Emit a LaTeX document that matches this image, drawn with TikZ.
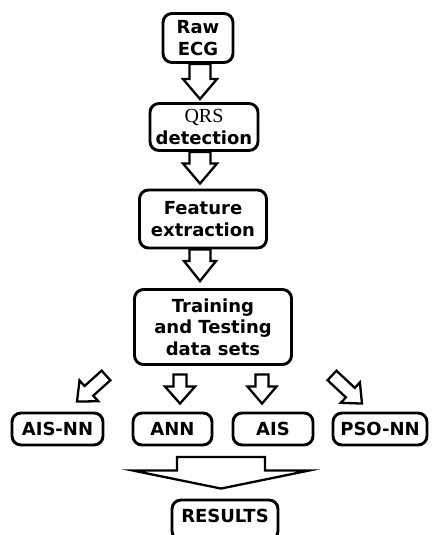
\documentclass[tikz,border=0pt]{standalone}
\usepackage{fontspec}
\setmainfont{DejaVu Sans}
\newfontfamily\qrsfont{Liberation Serif}
\usetikzlibrary{calc}

\tikzset{
  stage/.style={draw, line width=2.9pt, rounded corners=9pt, align=center,
    inner sep=0pt, font=\bfseries\fontsize{18}{21.5}\selectfont},
  flowarrow/.style={draw, line width=2.3pt, fill=white, line join=miter},
}

% block arrow: tail, tip, half shaft width, half head width, head length
\newcommand\blockarrow[5]{%
  \draw[flowarrow] let \p1=(#1), \p2=(#2),
    \n1={atan2(\y2-\y1,\x2-\x1)}, \n2={veclen(\x2-\x1,\y2-\y1)} in
    ($(\p1)+(\n1+90:#3)$) -- ($(\p1)+(\n1:\n2-#5)+(\n1+90:#3)$)
    -- ($(\p1)+(\n1:\n2-#5)+(\n1+90:#4)$) -- (\p2)
    -- ($(\p1)+(\n1:\n2-#5)+(\n1-90:#4)$)
    -- ($(\p1)+(\n1:\n2-#5)+(\n1-90:#3)$)
    -- ($(\p1)+(\n1-90:#3)$) -- cycle;}

\begin{document}
\begin{tikzpicture}[x=1pt, y=1pt]
    \useasboundingbox (0,0) rectangle (437,-535);

    % Etapas
    \node[stage, minimum width=70pt, minimum height=49pt] (raw) at (198,-38) {Raw\\ECG};
    \node[stage, minimum width=108pt, minimum height=47pt] (qrs) at (204,-127)
        {{\qrsfont\mdseries\fontsize{20}{21}\selectfont QRS}\\detection};
    \node[stage, minimum width=127pt, minimum height=58pt] (feat) at (203,-219) {Feature\\extraction};
    \node[stage, minimum width=157pt, minimum height=75pt] (train) at (213,-327)
        {Training\\and Testing\\data sets};

    % Clasificadores
    \node[stage, minimum width=91pt, minimum height=32pt] (aisnn) at (57.5,-429) {AIS-NN};
    \node[stage, minimum width=79pt, minimum height=32pt] (ann) at (172.5,-429) {ANN};
    \node[stage, minimum width=80pt, minimum height=32pt] (ais) at (273,-429) {AIS};
    \node[stage, minimum width=94pt, minimum height=32pt] (psonn) at (380,-429) {PSO-NN};

    % Resultados
    \node[stage, minimum width=106pt, minimum height=40pt, text depth=8pt] (results) at (225,-520) {RESULTS};

    % Flechas verticales
    \coordinate (a1) at ($(raw.south)+(2,0)$);
    \coordinate (a2) at ($(qrs.south)+(-4,0)$);
    \coordinate (a3) at ($(feat.south)+(-3,0)$);
    \blockarrow{a1}{$(a1 |- qrs.north)+(0,3)$}{10.5}{17}{20}
    \blockarrow{a2}{$(a2 |- feat.north)+(0,5)$}{10.5}{17}{20}
    \blockarrow{a3}{$(a3 |- train.north)+(0,7)$}{10.5}{16}{20}

    % Flechas hacia los clasificadores
    \coordinate (t1) at ($(train.south)+(-107,-9.5)$);
    \coordinate (t2) at ($(train.south)+(-33,-8.5)$);
    \coordinate (t3) at ($(train.south)+(49,-8.5)$);
    \coordinate (t4) at ($(train.south)+(119,-9.5)$);
    \blockarrow{t1}{$(aisnn.north)+(19.5,10)$}{6.5}{14}{16}
    \blockarrow{t2}{$(ann.north)+(7.5,8)$}{6.5}{15}{17}
    \blockarrow{t3}{$(ais.north)+(-11,8)$}{6.5}{14.5}{17}
    \blockarrow{t4}{$(psonn.north)+(-18,8)$}{6.5}{14}{16}

    % Flecha ancha hacia resultados
    \coordinate (big) at (221,-457);
    \blockarrow{big}{$(results.north)+(-4,10)$}{44}{88}{18}
\end{tikzpicture}
\end{document}
